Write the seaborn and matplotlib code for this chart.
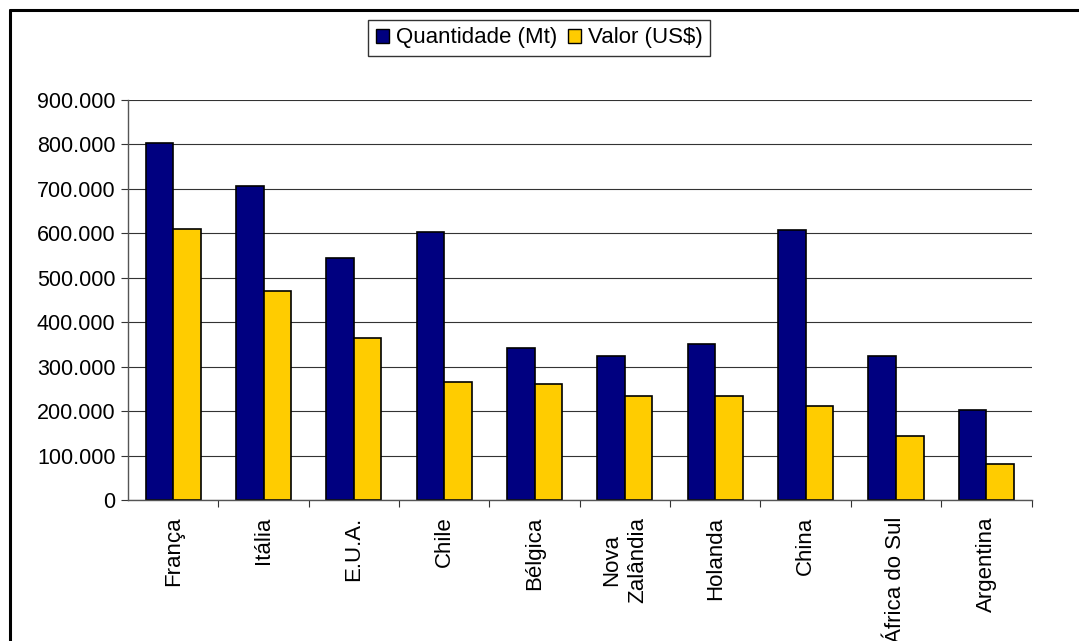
#!/usr/bin/env python3
"""Quantidade vs valor por país - barras agrupadas"""

import matplotlib
matplotlib.use('Agg')
import matplotlib.pyplot as plt
import numpy as np
import pandas as pd
import seaborn as sns
from matplotlib.lines import Line2D
from matplotlib.ticker import FuncFormatter, FixedLocator

paises = ['França', 'Itália', 'E.U.A.', 'Chile', 'Bélgica', 'Nova\nZalândia',
          'Holanda', 'China', 'África do Sul', 'Argentina']
quantidade = [803000, 706000, 545000, 603000, 342000, 324000, 351000, 607000, 324000, 203000]
valor = [610000, 470000, 365000, 265000, 261000, 234000, 234000, 211000, 144000, 81000]
series = ['Quantidade (Mt)', 'Valor (US$)']

df = pd.DataFrame({'pais': paises * 2,
                   'serie': [series[0]] * len(paises) + [series[1]] * len(paises),
                   'valor': quantidade + valor})

sns.set_style('white')
plt.rcParams['font.family'] = ['Liberation Sans', 'DejaVu Sans']
plt.rcParams['text.color'] = 'black'
plt.rcParams['xtick.color'] = 'black'
plt.rcParams['ytick.color'] = 'black'

fig = plt.figure(figsize=(10.79, 6.41), dpi=100)
ax = fig.add_axes([0.1186, 0.22, 0.8374, 0.624])

sns.barplot(data=df, x='pais', y='valor', hue='serie', order=paises,
            palette=['#000080', '#FFCC00'], saturation=1, width=0.61, gap=0,
            edgecolor='black', linewidth=1.2, ax=ax, legend=True)

ax.set_ylim(0, 900000)
ax.set_xlim(-0.5, len(paises) - 0.5)
ax.set_yticks(np.arange(0, 900001, 100000))
ax.yaxis.set_major_formatter(FuncFormatter(lambda v, p: '0' if v == 0 else f'{int(v):,}'.replace(',', '.')))
ax.yaxis.grid(True, color='#333333', linewidth=0.8)
ax.set_axisbelow(True)
ax.set_xlabel('')
ax.set_ylabel('')

for s in ['top', 'right']:
    ax.spines[s].set_visible(False)
for s in ['left', 'bottom']:
    ax.spines[s].set_color('#555555')
    ax.spines[s].set_linewidth(1)

ax.tick_params(axis='y', left=True, length=5, width=0.8, color='#333333', labelsize=15.5, pad=4)
ax.tick_params(axis='x', which='major', length=0, labelsize=16, pad=12)
ax.set_xticks(range(len(paises)))
ax.set_xticklabels(paises, rotation=90, va='top', ha='center', linespacing=1.35)
ax.xaxis.set_minor_locator(FixedLocator(np.arange(0.5, len(paises), 1.0)))
ax.tick_params(axis='x', which='minor', bottom=True, length=5, width=0.8, color='#333333')

leg = ax.legend(loc='center', bbox_to_anchor=(0.455, 1.155), ncol=2, frameon=True,
                fontsize=16, handlelength=0.6, handleheight=0.6, handletextpad=0.3,
                columnspacing=0.5, borderpad=0.35, fancybox=False, edgecolor='black')
leg.get_frame().set_linewidth(1)
for h in leg.legend_handles:
    h.set_edgecolor('black')
    h.set_linewidth(1)

# moldura: só topo e esquerda, como no original recortado
fig.add_artist(Line2D([10 / 1079, 10 / 1079], [0, 1 - 10 / 641], color='black', linewidth=2.2,
                      transform=fig.transFigure))
fig.add_artist(Line2D([10 / 1079, 1], [1 - 10 / 641, 1 - 10 / 641], color='black', linewidth=2.2,
                      transform=fig.transFigure))

fig.savefig('out.png', dpi=100)
